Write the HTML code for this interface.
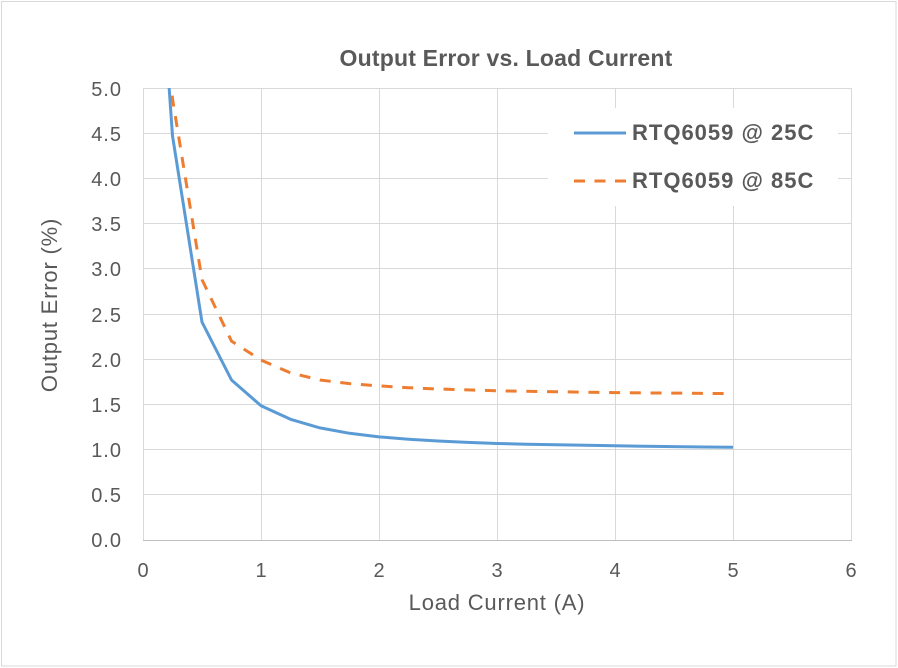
<!DOCTYPE html>
<html>
<head>
<meta charset="utf-8">
<style>
  html, body { margin: 0; padding: 0; background: #ffffff; }
  svg { display: block; }
  text { font-family: "Liberation Sans", Arial, sans-serif; fill: #595959; }
</style>
</head>
<body>
<svg width="898" height="668" viewBox="0 0 898 668" xmlns="http://www.w3.org/2000/svg">
  <rect x="0" y="0" width="898" height="668" fill="#ffffff"/>
  <rect x="1.5" y="1.5" width="894.5" height="664.5" fill="none" stroke="#d9d9d9" stroke-width="1"/>

  <!-- Title -->
  <text x="506" y="66" font-size="23" font-weight="bold" text-anchor="middle" letter-spacing="0.2">Output Error vs. Load Current</text>

  <!-- Gridlines horizontal -->
  <g stroke="#d9d9d9" stroke-width="1" fill="none">
    <line x1="143" y1="88.5" x2="851" y2="88.5"/>
    <line x1="143" y1="133.5" x2="851" y2="133.5"/>
    <line x1="143" y1="178.5" x2="851" y2="178.5"/>
    <line x1="143" y1="223.5" x2="851" y2="223.5"/>
    <line x1="143" y1="268.5" x2="851" y2="268.5"/>
    <line x1="143" y1="314.5" x2="851" y2="314.5"/>
    <line x1="143" y1="359.5" x2="851" y2="359.5"/>
    <line x1="143" y1="404.5" x2="851" y2="404.5"/>
    <line x1="143" y1="449.5" x2="851" y2="449.5"/>
    <line x1="143" y1="494.5" x2="851" y2="494.5"/>
    <!-- vertical -->
    <line x1="143.5" y1="88" x2="143.5" y2="540"/>
    <line x1="261.5" y1="88" x2="261.5" y2="540"/>
    <line x1="379.5" y1="88" x2="379.5" y2="540"/>
    <line x1="497.5" y1="88" x2="497.5" y2="540"/>
    <line x1="615.5" y1="88" x2="615.5" y2="540"/>
    <line x1="733.5" y1="88" x2="733.5" y2="540"/>
    <line x1="851.5" y1="88" x2="851.5" y2="540"/>
  </g>
  <line x1="143" y1="540.5" x2="852" y2="540.5" stroke="#bfbfbf" stroke-width="1"/>

  <!-- Y tick labels -->
  <g font-size="20" text-anchor="end" letter-spacing="1">
    <text x="122" y="96">5.0</text>
    <text x="122" y="141">4.5</text>
    <text x="122" y="186">4.0</text>
    <text x="122" y="231">3.5</text>
    <text x="122" y="276">3.0</text>
    <text x="122" y="322">2.5</text>
    <text x="122" y="367">2.0</text>
    <text x="122" y="412">1.5</text>
    <text x="122" y="457">1.0</text>
    <text x="122" y="502">0.5</text>
    <text x="122" y="547">0.0</text>
  </g>

  <!-- X tick labels -->
  <g font-size="20" text-anchor="middle">
    <text x="143" y="577">0</text>
    <text x="261" y="577">1</text>
    <text x="379" y="577">2</text>
    <text x="497" y="577">3</text>
    <text x="615" y="577">4</text>
    <text x="733" y="577">5</text>
    <text x="851" y="577">6</text>
  </g>

  <!-- Axis titles -->
  <text x="497" y="610" font-size="22" text-anchor="middle" letter-spacing="0.8">Load Current (A)</text>
  <text transform="translate(57,305) rotate(-90)" font-size="22" text-anchor="middle" letter-spacing="0.8">Output Error (%)</text>

  <defs>
    <clipPath id="plotclip">
      <rect x="143" y="88" width="709" height="453"/>
    </clipPath>
  </defs>

  <!-- Series -->
  <g clip-path="url(#plotclip)" fill="none" stroke-width="3" stroke-linejoin="round">
    <polyline stroke="#5b9bd5" points="166.6,51.8 172.5,135.9 202,322.1 231.5,380.0 261,405.8 290.5,419.3 320,427.9 349.5,433.3 379,436.9 408.5,439.2 438,441.0 467.5,442.4 497,443.5 526.5,444.2 556,444.8 585.5,445.3 615,445.8 644.5,446.3 674,446.6 703.5,447.0 733,447.3"/>
    <polyline stroke="#ed7d31" stroke-dasharray="11 9.7" points="166.6,33.8 172.5,98.8 202,279.6 231.5,341.1 261,360.1 290.5,372.8 320,380.0 349.5,383.6 379,385.9 408.5,387.7 438,389.0 467.5,389.9 497,390.8 526.5,391.3 556,391.7 585.5,392.2 615,392.6 644.5,392.9 674,393.1 703.5,393.4 733,393.6"/>
  </g>

  <!-- Legend -->
  <rect x="548" y="108" width="290" height="98" fill="#ffffff"/>
  <line x1="574" y1="133" x2="626" y2="133" stroke="#5b9bd5" stroke-width="3"/>
  <line x1="574" y1="181" x2="626" y2="181" stroke="#ed7d31" stroke-width="3" stroke-dasharray="11 9.5"/>
  <g font-size="22" font-weight="bold" letter-spacing="1">
    <text x="632" y="140">RTQ6059 @ 25C</text>
    <text x="632" y="188">RTQ6059 @ 85C</text>
  </g>
</svg>
</body>
</html>
